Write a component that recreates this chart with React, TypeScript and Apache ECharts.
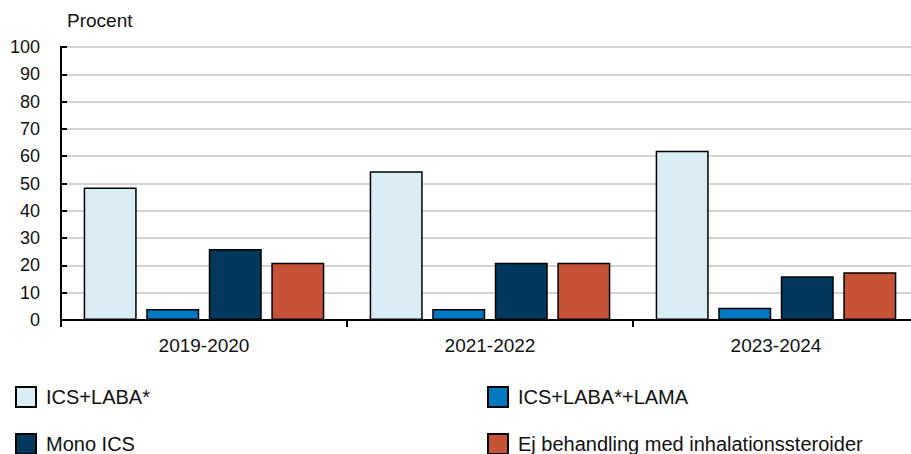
import React, { useEffect, useRef } from "react";
import * as echarts from "echarts";

const periods = ["2019-2020", "2021-2022", "2023-2024"];
const icsLaba = [48.5, 54.5, 62];
const icsLabaLama = [4, 4, 4.5];
const monoIcs = [26, 21, 16];
const noSteroids = [21, 21, 17.5];

const FONT = "'Liberation Sans', Arial, Helvetica, sans-serif";

export default function App() {
  const ref = useRef<HTMLDivElement>(null);

  useEffect(() => {
    if (!ref.current) return;
    const chart = echarts.init(ref.current, undefined, { renderer: "svg" });

    const bar = (name: string, data: number[], color: string) => ({
      name,
      type: "bar",
      data,
      barWidth: 53,
      barGap: "18%",
      itemStyle: { color, borderColor: "#000", borderWidth: 1.5 },
    });

    const legendText = { fontSize: 20, color: "#111", fontFamily: FONT, padding: [0, 0, 0, 5] };

    chart.setOption({
      animation: false,
      backgroundColor: "#fff",
      textStyle: { fontFamily: FONT },
      grid: { left: 61, top: 47, width: 858, bottom: 170, containLabel: false },
      legend: [
        {
          data: ["ICS+LABA*", "Mono ICS"],
          orient: "vertical",
          left: 10,
          top: 381,
          itemWidth: 20,
          itemHeight: 20,
          itemGap: 25,
          icon: "rect",
          selectedMode: false,
          textStyle: legendText,
        },
        {
          data: ["ICS+LABA*+LAMA", "Ej behandling med inhalationssteroider"],
          orient: "vertical",
          left: 482,
          top: 381,
          itemWidth: 20,
          itemHeight: 20,
          itemGap: 25,
          icon: "rect",
          selectedMode: false,
          textStyle: legendText,
        },
      ],
      xAxis: {
        type: "category",
        data: periods,
        axisLine: { lineStyle: { color: "#000", width: 2 } },
        axisTick: { show: true, length: 7, lineStyle: { color: "#000", width: 2 } },
        axisLabel: { fontSize: 19, color: "#111", margin: 16, fontFamily: FONT },
      },
      yAxis: {
        type: "value",
        min: 0,
        max: 100,
        interval: 10,
        name: "Procent",
        nameLocation: "end",
        nameGap: 17,
        nameTextStyle: { fontSize: 19, color: "#111", align: "left", padding: [0, 0, 0, 6], fontFamily: FONT },
        axisLine: { show: true, lineStyle: { color: "#000", width: 2 } },
        axisTick: { show: true, inside: true, length: 6, lineStyle: { color: "#000", width: 2 } },
        axisLabel: { fontSize: 18, color: "#111", margin: 21, fontFamily: FONT },
        splitLine: { lineStyle: { color: "#c6c6c6", width: 1.5 } },
      },
      series: [
        bar("ICS+LABA*", icsLaba, "#daecf4"),
        bar("ICS+LABA*+LAMA", icsLabaLama, "#0079c2"),
        bar("Mono ICS", monoIcs, "#02385b"),
        bar("Ej behandling med inhalationssteroider", noSteroids, "#c65238"),
      ],
    });

    return () => chart.dispose();
  }, []);

  return (
    <div style={{ position: "fixed", left: 0, top: 0, width: 911, height: 454, overflow: "hidden", background: "#fff" }}>
      <div ref={ref} style={{ width: 930, height: 490 }} />
    </div>
  );
}
